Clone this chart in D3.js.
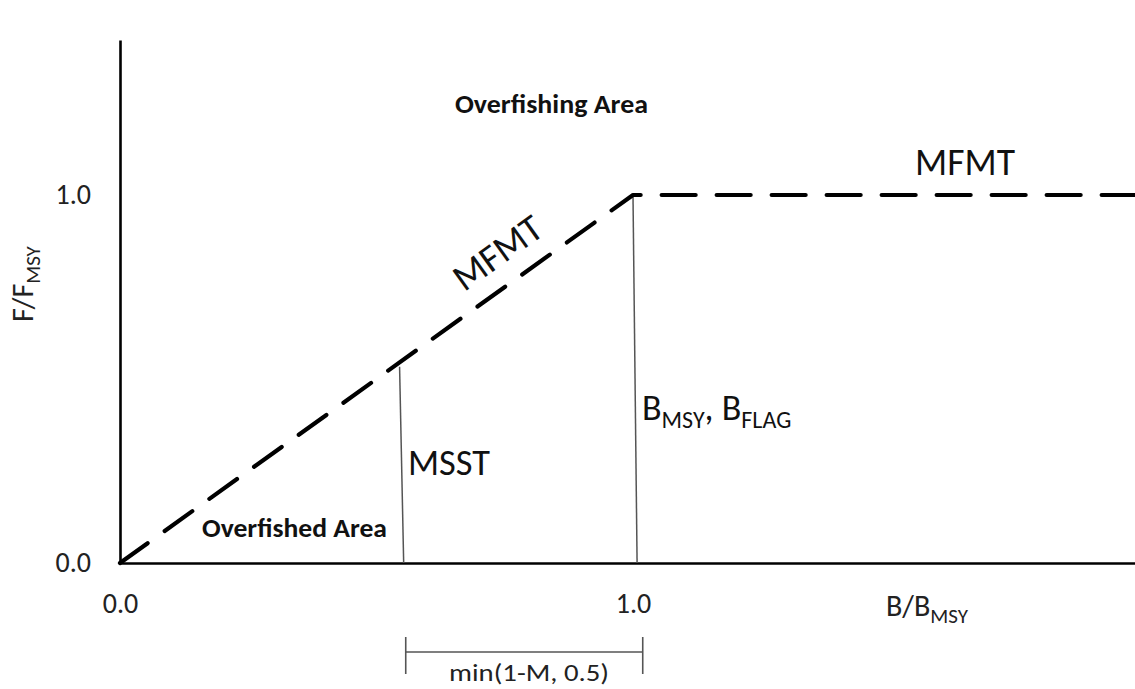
<!DOCTYPE html>
<html>
<head>
<meta charset="utf-8">
<script src="https://cdn.jsdelivr.net/npm/d3@7"></script>
<style>
  html, body { margin: 0; padding: 0; background: #fff; }
  svg { display: block; font-family: Carlito, Calibri, Lato, "Open Sans", sans-serif; }
</style>
</head>
<body>
<svg id="chart" width="1135" height="689"></svg>
<script>
// ---- data ----
const xTicks = [0, 1];
const yTicks = [0, 1];
const controlRuleX = [0, 1, 1.979];      // B/BMSY
const controlRuleY = [0, 1, 1];          // F/FMSY
const msstX = [0.545, 0.553];            // top, bottom
const msstY = [0.533, 0];
const bmsyX = [1.0, 1.008];
const bmsyY = [1.0, 0];
const bracketX = [0.557, 1.019];

const W = 1135, H = 689;
const svg = d3.select("#chart");
const FONT = "Carlito, Calibri, Lato, sans-serif";

const x = d3.scaleLinear().domain([0, 1.9786]).range([120, 1135]);
const y = d3.scaleLinear().domain([0, 1.4212]).range([563, 40]);

// axes
const xAxis = svg.append("g").attr("transform", `translate(0,${y(0)})`)
  .call(d3.axisBottom(x).tickValues(xTicks).tickFormat(d3.format(".1f")).tickSize(0).tickSizeOuter(0).tickPadding(30));
const yAxis = svg.append("g").attr("transform", `translate(${x(0)},0)`)
  .call(d3.axisLeft(y).tickValues(yTicks).tickFormat(d3.format(".1f")).tickSize(0).tickSizeOuter(0).tickPadding(29));
[xAxis, yAxis].forEach(g => {
  g.attr("font-family", FONT).attr("font-size", 28);
  g.select(".domain").attr("stroke", "#000").attr("stroke-width", 2.6);
  g.selectAll("text").style("font-size", "28px").style("font-family", FONT).attr("fill", "#222");
});

// thin vertical reference lines
const line = d3.line().x(d => x(d[0])).y(d => y(d[1]));
svg.append("path").datum(d3.zip(msstX, msstY)).attr("d", line)
  .attr("fill", "none").attr("stroke", "#555").attr("stroke-width", 1.5);
svg.append("path").datum(d3.zip(bmsyX, bmsyY)).attr("d", line)
  .attr("fill", "none").attr("stroke", "#555").attr("stroke-width", 1.5);

// control rule dashed line
svg.append("path").datum(d3.zip(controlRuleX, controlRuleY)).attr("d", line)
  .attr("fill", "none").attr("stroke", "#000").attr("stroke-width", 4.2)
  .attr("stroke-dasharray", "34,21").attr("stroke-linecap", "round").attr("stroke-linejoin", "round");

// bracket
const by = 652;
const bg = svg.append("g").attr("stroke", "#555").attr("stroke-width", 1.6);
bg.append("line").attr("x1", x(bracketX[0])).attr("x2", x(bracketX[1])).attr("y1", by).attr("y2", by);
bracketX.forEach(v => bg.append("line").attr("x1", x(v)).attr("x2", x(v)).attr("y1", by - 15).attr("y2", by + 22));
svg.append("text").attr("x", 529).attr("y", 681)
  .attr("text-anchor", "middle").style("font-size", "25px").attr("fill", "#222")
  .attr("textLength", 160).attr("lengthAdjust", "spacingAndGlyphs")
  .text("min(1-M, 0.5)");

// annotations
function txt(xp, yp, s, size, len, bold) {
  const t = svg.append("text").attr("x", xp).attr("y", yp).style("font-size", size + "px").attr("fill", "#111").text(s);
  if (len) t.attr("textLength", len).attr("lengthAdjust", "spacingAndGlyphs");
  if (bold) t.attr("font-weight", "bold");
  return t;
}
txt(455, 113, "Overfishing Area", 27, 193, true);
txt(202, 537, "Overfished Area", 27, 185, true);
txt(915, 175, "MFMT", 38, 100, false);
txt(408, 475, "MSST", 36, 82, false);

const ang = Math.atan2(y(1) - y(0), x(1) - x(0)) * 180 / Math.PI;
svg.append("text").attr("transform", `translate(505,263) rotate(${ang})`)
  .attr("text-anchor", "middle").style("font-size", "38px").attr("fill", "#111")
  .attr("textLength", 100).attr("lengthAdjust", "spacingAndGlyphs").text("MFMT");

// B_MSY, B_FLAG
const bt = svg.append("text").attr("x", 642).attr("y", 420).style("font-size", "36px").attr("fill", "#111");
bt.append("tspan").text("B");
bt.append("tspan").style("font-size", "24px").attr("dy", 8).text("MSY");
bt.append("tspan").attr("dy", -8).text(", B");
bt.append("tspan").style("font-size", "24px").attr("dy", 8).text("FLAG");

// axis titles
const xt = svg.append("text").attr("x", 886).attr("y", 616).style("font-size", "30px").attr("fill", "#222");
xt.append("tspan").text("B/B");
xt.append("tspan").style("font-size", "21px").attr("dy", 7).text("MSY");

const yt = svg.append("text").attr("transform", "translate(33,322) rotate(-90)").style("font-size", "30px").attr("fill", "#222");
yt.append("tspan").text("F/F");
yt.append("tspan").style("font-size", "21px").attr("dy", 7).text("MSY");
</script>
</body>
</html>
